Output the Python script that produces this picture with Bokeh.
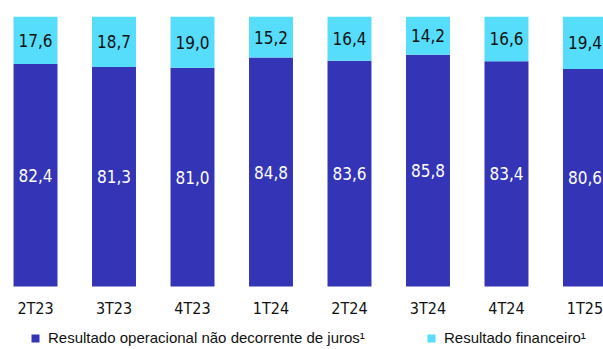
from bokeh.plotting import figure
from bokeh.models import ColumnDataSource, Range1d, Legend, LegendItem
from bokeh.core.properties import value
from bokeh.embed import file_html
from bokeh.resources import INLINE

# Quarterly split of results (%)
quarters = ["2T23", "3T23", "4T23", "1T24", "2T24", "3T24", "4T24", "1T25"]
operacional = [82.4, 81.3, 81.0, 84.8, 83.6, 85.8, 83.4, 80.6]
financeiro = [17.6, 18.7, 19.0, 15.2, 16.4, 14.2, 16.6, 19.4]
series_names = ["Resultado operacional não decorrente de juros¹", "Resultado financeiro¹"]

DARK = "#3434B6"
CYAN = "#55DDFB"
NARROW = "'DejaVu Sans Condensed', 'Liberation Sans', sans-serif"

xs = list(range(len(quarters)))
src = ColumnDataSource(dict(
    x=xs,
    q=quarters,
    op=operacional,
    fin_top=[o + f for o, f in zip(operacional, financeiro)],
    op_mid=[o / 2 for o in operacional],
    fin_mid=[o + f / 2 for o, f in zip(operacional, financeiro)],
    op_txt=[f"{v:.1f}".replace(".", ",") for v in operacional],
    fin_txt=[f"{v:.1f}".replace(".", ",") for v in financeiro],
))

# the plot frame runs below the bars so the quarter labels and legend sit inside it
p = figure(width=603, height=349, output_backend="svg", toolbar_location=None,
           x_range=Range1d(-0.446, 7.236), y_range=Range1d(-23.33, 100),
           x_axis_location=None, y_axis_location=None,
           min_border_left=0, min_border_right=0,
           min_border_top=16, min_border_bottom=0)
p.outline_line_color = None
p.grid.visible = False
p.background_fill_color = "white"
p.border_fill_color = "white"

w = 0.56
r_op = p.vbar(x="x", bottom=0, top="op", width=w, source=src,
              fill_color=DARK, line_color=None)
r_fin = p.vbar(x="x", bottom="op", top="fin_top", width=w, source=src,
               fill_color=CYAN, line_color=None)

p.text(x="x", y="op_mid", text="op_txt", source=src, text_color="white",
       text_font=value(NARROW), text_font_size="17px",
       text_align="center", text_baseline="middle")
p.text(x="x", y="fin_mid", text="fin_txt", source=src, text_color="#111111",
       text_font=value(NARROW), text_font_size="17px",
       text_align="center", text_baseline="middle")

# quarter labels under each bar
p.text(x="x", y=-8.2, text="q", source=src, text_color="#111111",
       text_font=value(NARROW), text_font_size="16px",
       text_align="center", text_baseline="middle")


def make_legend(name, renderer, x0):
    lg = Legend(items=[LegendItem(label=name, renderers=[renderer])],
                location=(x0, 3), orientation="horizontal",
                glyph_width=10, glyph_height=10, label_height=16,
                label_standoff=8, padding=0, margin=0,
                label_text_font="Liberation Sans", label_text_font_size="15px",
                label_text_color="#111111",
                border_line_color=None, background_fill_alpha=0)
    p.add_layout(lg, "center")


make_legend(series_names[0], r_op, 30)
make_legend(series_names[1], r_fin, 426)

open("out.html", "w").write(file_html(p, INLINE))
